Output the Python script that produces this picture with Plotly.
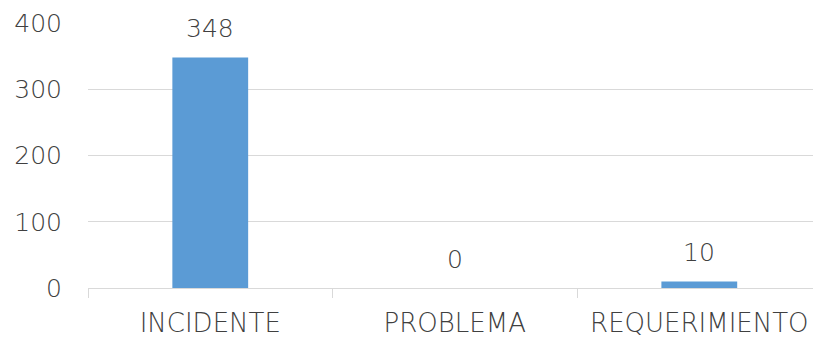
import plotly.graph_objects as go

categories = ["INCIDENTE", "PROBLEMA", "REQUERIMIENTO"]
values = [348, 0, 10]
y_ticks = [0, 100, 200, 300, 400]

FONT = "DejaVu Sans"
W = 200
TXT = "#404040"

fig = go.Figure()
fig.add_trace(go.Bar(
    x=categories, y=values, width=0.31,
    marker=dict(color="#5B9BD5", line=dict(width=0)),
    showlegend=False, hoverinfo="skip",
))
for c, v in zip(categories, values):
    fig.add_annotation(x=c, y=v, text=str(v), showarrow=False,
                       yanchor="bottom", yshift=12,
                       font=dict(family=FONT, size=25, color=TXT, weight=W))

fig.update_layout(
    width=813, height=338,
    margin=dict(l=88, r=0, t=23, b=50, autoexpand=False),
    paper_bgcolor="white", plot_bgcolor="white",
    font=dict(family=FONT, size=25, color=TXT, weight=W),
    xaxis=dict(
        range=[-0.5, 2.465], showgrid=False, automargin=False,
        showline=True, linecolor="#D9D9D9", linewidth=1,
        ticks="outside", tickson="boundaries", ticklen=9,
        tickcolor="#D9D9D9", tickwidth=1, ticklabelstandoff=12,
        tickfont=dict(family=FONT, size=26, color=TXT, weight=W),
    ),
    yaxis=dict(
        range=[0, 400], tickvals=y_ticks, automargin=False,
        showgrid=True, gridcolor="#D9D9D9", gridwidth=1,
        zeroline=False, showline=False,
        ticks="outside", ticklen=20, tickcolor="rgba(0,0,0,0)",
        tickfont=dict(family=FONT, size=25, color=TXT, weight=W),
    ),
)
fig.write_html(
    "out.html",
    config={"displayModeBar": False},
    post_script="document.body.style.margin='0';document.body.style.overflow='hidden';",
)
